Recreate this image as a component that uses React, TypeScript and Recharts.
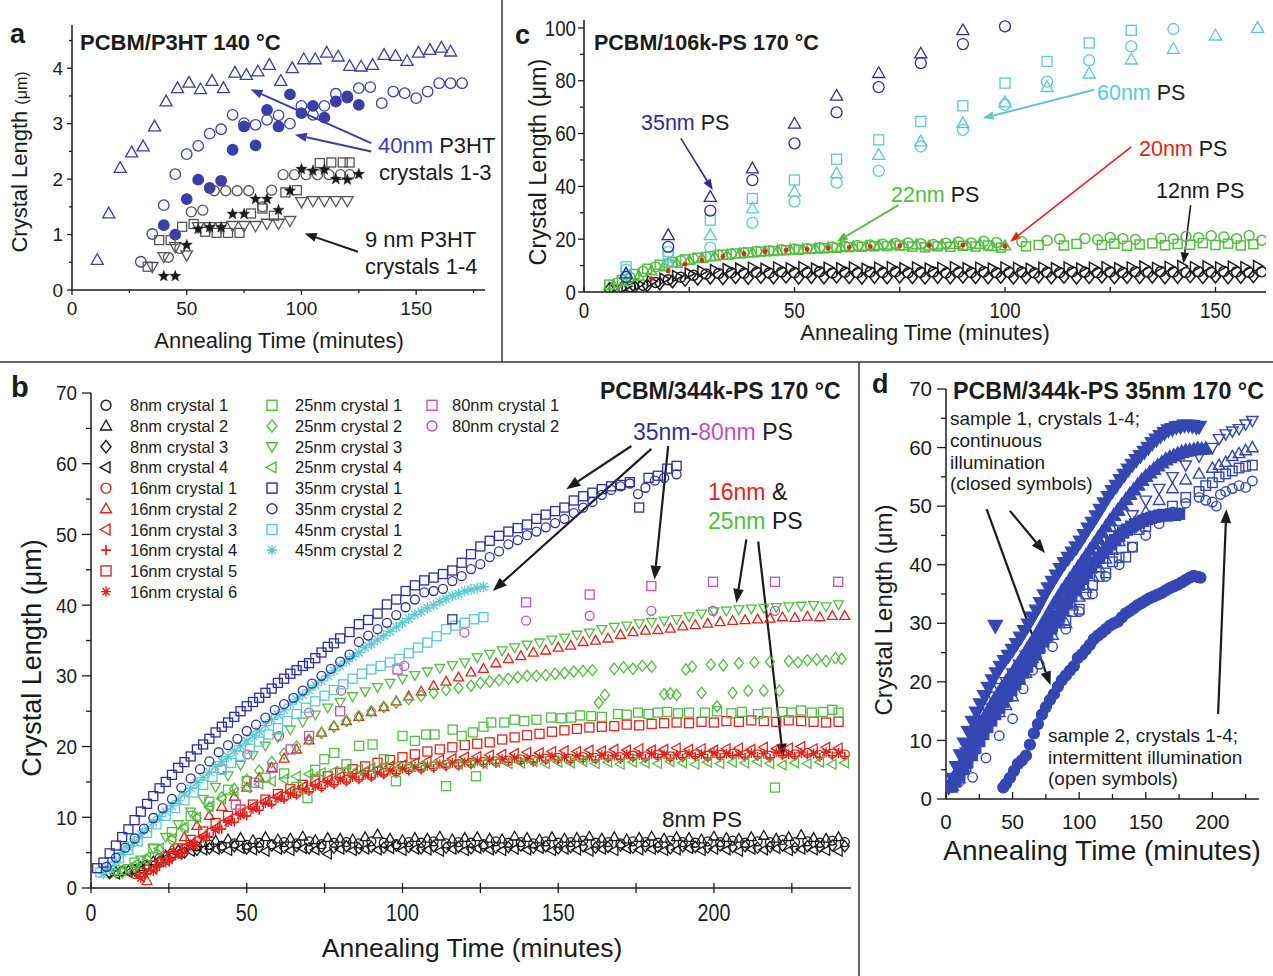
import React from "react";
import { ScatterChart, Scatter, XAxis, YAxis, ReferenceLine } from "recharts";

type P = [number, number];
type V = (number | null)[];
type Kind = "circle" | "square" | "up" | "down" | "left" | "right" | "diamond" | "star" | "plus" | "aster";
type S = { name: string; kind: Kind; color: string; pts: P[]; filled?: boolean; size?: number; sw?: number };
type Arrow = { from: P; to: P; color: string; w?: number; head?: number };

const FONT = "'Liberation Sans', Arial, Helvetica, sans-serif";
const INK = "#1b1b1b";
const A_BLUE = "#3b3da9";
const GREY = "#555555";
const C_BLUE = "#2f2c98";
const B_BLUE = "#2b2f9f";
const D_BLUE = "#3447b3";
const CYAN = "#5bc9d3";
const GREEN = "#52bd3f";
const RED = "#e2231a";
const MAG = "#c44fb8";

// ---------- panel a : PCBM/P3HT 140 C ----------
const a40c1: P[] = [[11,0.54],[16,1.38],[21,2.2],[26,2.48],[31,2.59],[36,2.95],[41,3.4],[46,3.64],[51,3.74],[56,3.62],[61,3.77],[66,3.64],[71,3.92],[76,3.88],[81,3.94],[86,4.06],[91,3.77],[96,4.0],[101,4.16],[106,4.16],[111,4.28],[116,4.21],[121,4.04],[126,4.03],[131,4.06],[136,4.24],[141,4.22],[146,4.13],[151,4.28],[156,4.33],[161,4.37],[165,4.3]];
const a40c2: P[] = [[30,0.51],[35,1.01],[40,1.53],[45,2.09],[50,2.45],[55,2.6],[60,2.82],[65,2.9],[70,3.16],[75,3.01],[80,2.98],[85,3.07],[90,3.15],[95,3.0],[100,3.32],[105,3.16],[110,3.32],[115,3.54],[120,3.47],[125,3.64],[130,3.66],[135,3.37],[140,3.58],[145,3.55],[150,3.46],[155,3.58],[160,3.73],[165,3.73],[170,3.73]];
const a40c3: P[] = [[40,1.17],[45,1.0],[50,1.64],[55,1.99],[60,1.84],[65,1.97],[70,2.53],[75,2.95],[80,2.61],[85,3.25],[90,2.95],[95,3.53],[100,3.19],[105,3.32],[110,3.11],[115,3.4],[120,3.49],[125,3.34]];
const a9c1: P[] = [[42,0.59],[47,0.75],[52,1.41],[57,1.44],[62,1.79],[67,1.79],[72,1.79],[77,1.79],[83,1.5],[87,1.8],[92,2.08],[97,2.08],[102,2.08],[107,2.08],[112,2.08],[117,2.08],[121,2.08]];
const a9c2: P[] = [[33,0.42],[38,0.9],[43,0.9],[48,1.14],[53,1.19],[58,1.05],[63,1.03],[68,1.03],[73,1.03],[78,1.38],[83,1.47],[88,1.34],[93,1.76],[98,1.8],[108,2.29],[113,2.3],[118,2.3],[121,2.3]];
const a9c3: P[] = [[35,0.42],[40,0.6],[45,0.78],[50,0.63],[55,1.14],[60,1.14],[65,1.14],[70,1.16],[75,1.16],[80,1.16],[85,1.2],[90,1.2],[95,1.25],[100,1.59],[105,1.61],[110,1.61],[115,1.61],[120,1.61]];
const a9c4: P[] = [[40,0.25],[45,0.25],[50,0.81],[55,1.1],[60,1.13],[65,1.13],[70,1.37],[75,1.37],[80,1.64],[85,1.64],[90,1.44],[95,1.79],[100,2.18],[105,2.15],[110,2.17],[115,2.0],[120,1.99],[125,2.09]];
const aXTicks = [0, 25, 50, 75, 100, 125, 150, 175];
const aYTicks = [0, 0.5, 1, 1.5, 2, 2.5, 3, 3.5, 4, 4.5];

// ---------- panel c : PCBM/106k-PS 170 C ----------
const tC = [6,9,12,15,18,21,24,27,30,33,
  36,39,42,45,48,51,54,57,60,63,
  66,69,72,75,78,81,84,87,90,93,
  96,99,102,105,108,111,114,117,120,123,
  126,129,132,135,138,141,144,147,150,153,
  156,159];
const tC2 = [8,11,14,17,20,23,26,29,32,35,
  38,41,44,47,50,53,56,59,62,65,
  68,71,74,77,80,83,86,89,92,95,
  98,101,104,107,110,113,116,119,122,125,
  128,131,134,137,140,143,146,149,152,155,
  158,161];
const tC3 = [7,10,13,16,19,22,25,28,31,34,
  37,40,43,46,49,52,55,58,61,64,
  67,70,73,76,79,82,85,88,91,94,
  97,100,103,106,109,112,115,118,121,124,
  127,130,133,136,139,142,145,148,151,154,
  157,160];
const c12d: V = [1.0,1.5,2.0,2.5,3.2,4.0,4.6,5.0,5.4,5.2,
  5.6,5.3,5.7,5.5,5.8,5.4,5.7,5.5,5.8,5.6,
  5.4,5.7,5.5,5.8,5.6,5.4,5.7,5.5,5.8,5.6,
  5.5,5.7,5.4,5.6,5.8,5.5,5.7,5.4,5.6,5.8,
  5.5,5.7,5.6,5.8,5.5,5.7,5.9,5.6,5.8,5.5,
  5.7,5.9];
const c12c: V = [null,2.0,2.6,3.6,4.6,5.6,6.3,6.8,7.0,7.3,
  7.1,7.5,7.2,7.6,7.3,7.4,7.7,7.2,7.5,7.3,
  7.6,7.4,7.7,7.3,7.5,7.6,7.2,7.5,7.4,7.7,
  7.3,7.5,7.6,7.2,7.5,7.4,7.7,7.5,7.3,7.6,
  7.4,7.7,7.5,7.8,7.6,7.4,7.7,7.5,7.8,7.6,
  7.4,7.7];
const c12t: V = [1.5,2.2,3.0,4.0,5.0,6.0,7.0,7.8,8.3,8.7,
  8.9,9.2,8.8,9.3,9.0,9.4,8.9,9.2,9.0,9.3,
  8.8,9.2,9.4,9.0,9.3,8.9,9.1,9.4,9.0,9.2,
  8.9,9.3,9.1,8.8,9.2,9.0,9.3,8.9,9.2,9.4,
  9.0,9.3,9.6,9.1,9.5,9.8,9.4,9.7,9.3,9.6,
  9.4,9.8];
const c22c: V = [3.5,5.5,7.8,9.5,10.8,11.8,12.6,13.3,13.9,14.4,
  14.9,15.3,15.6,16.0,16.3,16.5,16.8,17.0,17.3,17.6,
  17.8,18.1,18.4,18.6,18.3,18.0,18.5,18.9,18.6,19.2,
  18.7,null,19.0,null,19.5,20.1,null,20.3,19.8,20.6,
  20.2,19.9,null,20.4,20.1,21.0,20.5,21.3,20.8,20.2,
  21.4,19.6];
const c22s: V = [2.8,4.5,6.8,8.8,10.3,11.4,12.3,13.0,13.6,14.1,
  14.6,15.0,15.3,15.5,15.8,16.0,16.3,16.5,16.7,17.0,
  17.1,17.3,17.4,17.6,17.2,16.9,17.3,17.1,17.5,17.2,
  17.6,16.8,null,17.3,17.8,null,17.6,18.2,null,17.8,
  18.3,17.5,18.0,18.4,17.7,18.2,17.9,18.5,17.8,18.3,
  17.6,18.1];
const c22t: V = [2.5,4.0,6.0,8.0,9.6,10.9,11.9,12.7,13.4,14.0,
  14.5,14.9,15.3,15.6,15.9,16.2,16.4,16.7,16.9,17.1,
  17.3,17.6,17.8,17.5,17.9,17.4,17.8,18.0,17.6,18.1,
  17.2,17.5];
const c20: P[] = [[16,5],[20,8],[24,10.5],[28,12],[33,13.5],[38,14.5],[43,15.2],[48,15.8],[53,16.2],[58,16.6],[63,16.9],[68,17.2],[75,17.5],[82,17.6],[90,17.8],[100,17.3]];
const c35t: P[] = [[10,7],[20,21.5],[30,36],[40,46.8],[50,63.7],[60,74.3],[70,82.9],[80,90.3],[90,99.1]];
const c35c: P[] = [[10,5.7],[20,17.1],[30,30.8],[40,42.4],[50,56.3],[60,68],[70,77.6],[80,86.7],[90,93.9],[100,100.6]];
const c60s: P[] = [[10,9.5],[20,13.3],[30,27.2],[40,35.4],[50,42.4],[60,50.3],[70,57.6],[80,64.6],[90,70.5],[100,79.1],[110,87.3],[120,94.3],[130,99.1]];
const c60t: P[] = [[10,6.5],[20,11],[30,21.5],[40,31.6],[50,38],[60,44.9],[70,51.9],[80,57],[90,63.9],[100,71.8],[110,77.6],[120,82.7],[130,88],[140,92],[150,97.1],[160,100]];
const c60c: P[] = [[10,8.5],[20,15.2],[30,16.8],[40,26.2],[50,34.2],[60,41.4],[70,45.9],[80,55.1],[90,61.4],[100,70.9],[110,79.7],[120,87.7],[130,93],[140,99.6]];
const cXTicks = [0, 25, 50, 75, 100, 125, 150];
const cYTicks = [0, 10, 20, 30, 40, 50, 60, 70, 80, 90, 100];

// ---------- panel b : PCBM/344k-PS 170 C ----------
const tB = [2,6,10,14,18,22,26,30,34,38,
  42,46,50,54,58,62,66,70,74,78,
  82,86,90,94,98,102,106,110,114,118,
  122,126,130,134,138,142,146,150,154,158,
  162,166,170,174,178,182,186,190,194,198,
  202,206,210,214,218,222,226,230,234,238,
  242];
const tB2 = [4,8,12,16,20,24,28,32,36,40,
  44,48,52,56,60,64,68,72,76,80,
  84,88,92,96,100,104,108,112,116,120,
  124,128,132,136,140,144,148,152,156,160,
  164,168,172,176,180,184,188,192,196,200,
  204,208,212,216,220,224,228,232,236,240];
const b8c1: V = [null,2.2,2.4,2.7,3.3,4.2,4.9,5.5,5.9,6.1,
  6.0,6.3,6.1,6.4,6.2,6.5,6.3,6.6,6.2,6.4,
  6.5,6.3,6.6,6.4,6.2,6.5,6.4,6.6,6.3,6.5,
  6.4,6.2,6.6,6.4,6.5,6.3,6.6,6.4,6.5,6.7,
  6.4,6.5,6.3,6.6,6.5,6.4,6.7,6.5,6.4,6.6,
  6.5,6.7,6.4,6.6,6.5,6.8,6.5,6.6,6.4,6.7,
  6.5];
const b8c2: V = [null,2.3,2.5,3.0,3.8,4.6,5.4,6.0,6.4,6.7,
  6.9,7.1,6.8,7.2,6.9,7.0,7.3,6.8,7.1,7.0,
  6.9,7.2,7.6,7.0,6.8,7.1,7.0,7.3,6.9,7.1,
  7.2,7.0,6.9,7.3,7.1,6.9,7.2,7.0,7.1,7.3,
  7.0,7.2,6.9,7.1,7.3,7.0,7.2,7.1,6.9,7.3,
  7.1,7.0,7.2,7.4,7.0,7.2,7.5,7.1,7.0,7.2];
const b8c3: V = [null,2.1,2.3,2.5,3.0,3.8,4.5,5.0,5.4,5.6,
  5.7,5.9,5.6,5.8,6.0,5.7,5.9,5.6,5.8,5.7,
  5.9,5.6,5.8,5.7,6.0,5.8,5.6,5.9,5.7,5.8,
  5.6,5.9,5.7,5.8,6.0,5.7,5.9,5.6,5.8,5.9,
  5.7,5.8,6.0,5.7,5.9,5.8,5.6,5.9,5.8,5.7,
  6.0,5.8,5.9,5.7,5.8,6.0,5.7,5.9,5.8,6.0,
  5.9];
const b8c4: V = [null,2.0,2.2,2.6,3.4,4.2,4.8,5.2,5.4,5.5,
  5.3,5.6,5.4,5.2,5.5,5.3,5.6,5.4,4.8,5.5,
  5.3,5.5,5.4,5.6,5.3,5.5,5.4,5.2,5.5,5.3,
  5.6,5.4,5.3,5.5,5.4,5.6,5.3,5.5,5.4,5.2,
  5.5,5.3,5.6,5.4,5.5,5.3,5.4,5.6,5.3,5.5,
  5.4,5.2,5.5,5.4,5.6,5.3,5.5,5.4,5.3,5.2];
const b16c1: V = [null,null,null,2.0,2.6,3.6,4.6,5.6,6.6,7.8,
  8.9,9.8,10.7,11.5,12.2,12.9,13.4,13.9,14.4,14.9,
  15.3,15.6,15.9,16.3,16.5,16.8,17.0,17.2,17.4,17.5,
  17.7,17.8,17.9,18.0,18.2,18.1,18.3,18.4,18.3,18.5,
  18.4,18.6,18.5,18.7,18.6,18.8,18.6,18.7,18.9,18.7,
  18.8,19.0,18.8,18.9,18.7,19.0,18.9,19.1,18.8,19.0,
  18.9];
const b16c2: V = [null,null,null,null,1.0,3.6,5.4,7.2,8.8,10.2,
  11.5,12.9,14.2,15.6,17.0,18.3,19.6,20.9,22.0,22.9,
  23.6,24.2,24.9,25.6,26.4,27.1,27.8,28.6,29.2,29.8,
  30.5,31.0,31.8,32.4,32.8,33.3,33.6,34.0,34.3,34.8,
  35.0,35.3,35.8,36.2,36.4,36.5,36.7,37.0,37.2,37.4,
  37.6,37.8,37.9,38.0,38.1,38.3,38.2,38.4,38.3,38.5,
  38.5];
const b16c3: V = [null,null,null,1.6,2.8,3.9,5.0,6.2,7.3,8.5,
  9.6,10.6,11.5,12.3,13.0,13.7,14.3,14.8,15.3,15.8,
  16.1,16.5,16.8,17.2,17.4,17.7,17.9,18.1,18.3,18.5,
  18.6,18.8,18.9,19.0,19.2,19.1,19.3,19.4,19.3,19.5,
  19.4,19.6,19.5,19.7,19.5,19.6,19.8,19.6,19.7,19.5,
  19.7,19.8,19.6,19.9,19.7,19.8,20.0,19.7,19.9,19.8];
const b16c4: V = [null,null,null,null,2.0,3.0,4.0,5.0,6.1,7.2,
  8.3,9.3,10.2,11.0,11.8,12.5,13.1,13.6,14.1,14.6,
  15.0,15.3,15.6,16.0,16.2,16.5,16.7,16.9,17.1,17.2,
  17.4,17.5,17.6,17.8,17.9,17.8,18.0,18.1,18.0,18.2,
  18.1,18.3,18.2,18.4,18.3,18.5,18.3,18.4,18.6,18.4,
  18.5,18.7,18.5,18.6,18.4,18.7,18.6,18.8,18.5,18.7,
  18.6];
const b16c5: V = [null,null,null,2.2,3.2,4.4,5.6,6.8,8.0,9.2,
  10.2,11.1,11.8,12.5,13.3,14.0,14.6,15.2,15.8,16.3,
  16.8,17.2,17.7,18.1,18.5,18.9,19.3,19.6,19.9,20.2,
  20.4,20.6,21.0,21.3,21.6,21.8,22.1,22.3,22.5,22.7,
  22.8,22.9,23.1,23.0,23.2,23.3,23.4,23.3,23.5,23.4,
  23.6,23.5,23.7,23.6,23.5,23.7,23.6,23.5,23.4,23.5];
const b16c6: V = [null,null,null,1.4,2.4,3.6,4.8,6.0,7.1,8.2,
  9.3,10.3,11.2,12.0,12.7,13.3,13.9,14.4,14.9,15.3,
  15.7,16.0,16.3,16.6,16.9,17.1,17.3,17.5,17.7,17.8,
  18.0,18.1,18.2,18.4,18.3,18.5,18.6,18.5,18.7,18.6,
  18.8,18.7,18.9,18.8,19.0,18.9,18.8,19.0,18.9,19.1,
  19.0,18.9,19.1,19.0,19.2,18.9,19.1,19.0,19.2,19.1];
const b25c1: P[] = [[8,2.5],[14,3.6],[20,5.6],[26,7.9],[32,10.2],[38,12.2],[44,13.9],[50,15.1],[56,15.6],[62,16.2],[66,14.3],[69.5,12.7],[72,16.7],[74.9,18.2],[78.1,19.1],[82,17.5],[86.1,20.1],[90.4,20.3],[94,18.2],[97.9,15.1],[100,21.5],[104,20.8],[107.6,21.7],[110.3,21.7],[114,14.4],[116.1,22.4],[119,21.5],[122.6,22],[123.6,15.8],[126,22.8],[128.5,23.4],[132.7,23.4],[136,23.8],[139.1,23.6],[143,23.8],[147.7,24.1],[151,24.0],[154.2,24.1],[157,24.4],[160.6,24.3],[164,24.2],[169.2,24.6],[172,24.5],[175.6,24.8],[179,24.6],[182,24.8],[185,24.9],[188.5,24.7],[192,24.8],[197.1,24.8],[201,25.0],[205.6,24.7],[209,24.9],[214.2,24.6],[217,24.8],[219.6,14.2],[222,24.9],[224.9,24.8],[228,25.1],[231.4,24.8],[235,24.9],[238,25.2],[240,24.8]];
const b25c2: P[] = [[10,2.2],[14,3.0],[18,4.0],[22,5.4],[26,6.8],[30,8.4],[34,9.9],[38,11.4],[42,12.8],[46,14.0],[50,15.3],[54,16.6],[58,17.8],[62,19.0],[66,20.0],[70,21.0],[74,21.9],[78,22.8],[82,23.6],[86,24.3],[90,25.0],[94,25.6],[98,26.2],[102,26.7],[106,27.2],[110,27.6],[114,28.0],[118,28.3],[122,28.6],[125,29.0],[128,29.2],[131,29.4],[134,29.6],[137,29.8],[140,30.0],[143,30.0],[146,30.1],[149,30.3],[152,30.4],[155,30.6],[158,30.7],[161,30.8],[163,26.2],[165,27.3],[168,31.0],[171,31.2],[174,31.0],[177,31.4],[180,31.3],[184,27.4],[186,27.5],[188,27.3],[191,30.9],[193,31.3],[196,27.6],[199,31.6],[201,25.7],[203,31.5],[206,27.6],[208,31.8],[211,27.9],[213,31.9],[216,27.9],[218,32.0],[221,27.9],[224,32.1],[227,31.9],[230,32.2],[233,32.3],[236,32.1],[239,32.5],[241,32.4]];
const b25c3: V = [null,2.2,2.8,4.0,5.6,7.2,9.0,10.8,12.6,14.3,
  15.9,17.4,18.8,20.1,21.3,22.4,23.5,24.5,25.5,26.3,
  27.1,27.8,28.4,29.0,29.6,30.1,30.6,31.1,31.5,31.9,
  32.6,33.1,33.6,34.0,34.4,34.7,35.1,35.4,35.8,36.1,
  36.6,36.9,37.1,37.4,37.6,37.8,38.0,38.4,38.8,39.1,
  39.2,39.4,39.5,39.6,39.7,39.8,39.9,40.0,39.8,40.1];
const b25c4: V = [null,null,2.4,3.3,4.4,5.6,7.0,8.6,10.0,11.5,
  12.6,13.5,14.2,14.7,15.1,15.4,15.8,16.1,16.3,16.5,
  16.7,16.8,17.0,17.1,17.2,17.3,17.4,17.5,17.6,17.5,
  17.7,17.6,17.8,17.6,17.7,17.9,17.6,17.8,17.7,17.9,
  17.6,17.8,17.5,17.8,17.7,17.6,17.9,17.7,17.5,17.8,
  17.6,17.8,17.7,17.9,17.6,17.4,17.7,17.6,17.8,17.5,
  17.7];
const b35c1: P[] = [[2,2.8],[4,3.6],[6,4.9],[8,6.0],[10,7.2],[12,8.3],[14,9.6],[16,10.8],[18,11.9],[20,13.0],[22,14.1],[24,15.0],[26,16.0],[28,17.0],[30,17.8],[32,18.6],[34,19.6],[36,20.3],[38,21.1],[40,22.0],[42,22.8],[44,23.4],[46,24.2],[48,25.0],[50,25.7],[52,26.3],[54,26.9],[56,27.6],[58,28.2],[60,29.0],[62,29.6],[64,30.3],[66,30.8],[68,31.4],[70,31.8],[72,32.5],[74,33.3],[76,34.1],[78,34.6],[80,35.3],[83,36.2],[86,37.3],[89,37.9],[92,38.8],[95,40.1],[98,40.8],[101,42.0],[104,42.8],[107,43.5],[110,43.9],[113,44.4],[116,38.0],[116,44.9],[119,46.0],[122,47.2],[125,48.3],[128,49.1],[131,49.8],[134,50.4],[137,50.9],[140,51.4],[143,52.2],[146,52.8],[149,53.3],[152,53.8],[155,54.8],[158,55.4],[161,55.9],[164,56.4],[167,56.8],[170,57.0],[173,57.4],[176,53.8],[179,58.0],[182,58.3],[185,59.3],[188,59.7]];
const b35c2: P[] = [[5,3.0],[8,4.3],[11,5.7],[14,7.0],[17,8.4],[20,9.9],[23,11.3],[26,12.6],[29,14.2],[32,15.5],[35,16.8],[38,17.9],[41,19.2],[44,20.2],[47,21.1],[50,22.2],[53,23.1],[56,24.1],[59,25.2],[62,26.0],[65,26.9],[68,27.9],[71,28.9],[74,30.0],[77,31.0],[80,32.0],[83,33.0],[86,34.8],[89,35.7],[92,36.6],[95,37.5],[98,38.6],[101,39.7],[104,40.8],[107,41.8],[110,42.0],[113,42.3],[116,43.4],[119,44.1],[122,45.1],[125,45.8],[128,46.8],[131,47.6],[134,48.6],[137,49.2],[140,49.9],[143,50.4],[146,51.0],[149,51.6],[152,52.2],[155,53.0],[158,53.8],[161,54.6],[164,55.6],[167,56.3],[170,56.8],[173,57.2],[175.6,55.7],[178,56.6],[181,57.6],[184,58.0],[188,58.5]];
const b45c1: P[] = [[3,2.2],[6,3.0],[9,4.2],[12,5.4],[15,6.6],[18,7.8],[21,9.0],[24,10.2],[27,11.3],[30,12.4],[33,13.5],[36,14.6],[39,15.7],[42,16.7],[45,17.7],[48,18.7],[51,19.7],[54,20.7],[57,21.7],[60,22.6],[63,23.6],[66,24.6],[69,25.5],[72,26.4],[75,27.2],[78,28.0],[81,28.8],[84,29.6],[87,30.3],[90,30.9],[93,31.4],[96,31.9],[99,32.4],[102,33.2],[105,34.0],[108,34.7],[111,35.6],[114,36.6],[117,37.1],[120,37.5],[123,38.0],[126,38.3]];
const b45c2: P[] = [[4,2.0],[6,2.7],[8,3.8],[10,5.0],[12,5.8],[14,6.5],[16,7.6],[18,8.4],[20,9.3],[22,10.1],[24,10.8],[26,11.6],[28,12.4],[30,13.3],[32,14.1],[34,14.9],[36,15.6],[38,16.4],[40,17.2],[42,17.9],[44,18.6],[46,19.4],[48,20.1],[50,20.8],[52,21.5],[54,22.2],[56,23.0],[58,23.8],[60,24.5],[62,25.2],[64,26.0],[66,26.7],[68,27.3],[70,28.0],[72,28.7],[74,29.3],[76,30.0],[78,30.7],[80,31.4],[82,32.1],[84,32.7],[86,33.3],[88,34.0],[90,34.5],[92,35.1],[94,35.7],[96,36.3],[98,36.9],[100,37.5],[102,38.1],[104,38.7],[106,39.1],[108,39.6],[110,40.0],[112,40.5],[114,40.9],[116,41.3],[118,41.6],[120,42.0],[122,42.2],[124,42.4],[126,42.6]];
const b80c1: P[] = [[46.5,11.8],[52.4,14.9],[58.3,17.0],[64.1,19.6],[70,21.5],[80,25],[98.4,30.9],[139.7,40.4],[160.1,41.5],[179.9,42.7],[199.7,43.3],[219.6,43.3],[239.9,43.3]];
const b80c2: P[] = [[42,16.8],[50.2,18.9],[60.4,21.5],[70,24.8],[80.3,27.9],[100.6,31.4],[119.9,36.1],[139.7,37.8],[160.1,38.5],[179.9,39.2],[199.7,39.2],[219.6,39.2]];
const bXTicks = [0, 25, 50, 75, 100, 125, 150, 175, 200, 225];
const bYTicks = [0, 5, 10, 15, 20, 25, 30, 35, 40, 45, 50, 55, 60, 65, 70];

// ---------- panel d : PCBM/344k-PS 35nm 170 C ----------
const dDown: P[] = [[2,2],[5,3.5],[8,5.5],[11,7.5],[14,9.5],[17,11.5],[20,13.2],[23,14.8],[26,16.2],[29,17.6],[32,19.0],[35,20.3],[37,29.6],[38,21.5],[41,22.6],[44,23.6],[47,24.5],[50,25.5],[53,26.5],[56,27.6],[59,28.7],[62,29.8],[65,31],[68,32.2],[71,33.5],[74,34.8],[77,36],[80,37.1],[83,38.2],[86,39.3],[89,40.3],[92,41.2],[95,42.1],[98,43],[101,44],[104,45.1],[107,46.2],[110,47.2],[113,48.3],[116,49.4],[119,50.5],[122,51.6],[125,52.6],[128,53.5],[131,54.5],[134,55.4],[137,56.3],[140,57.1],[143,57.9],[146,58.6],[149,59.3],[152,60.0],[155,60.8],[158,61.4],[161,62.0],[164,62.5],[167,63.0],[170,63.2],[173,63.5],[176,63.6],[179,63.8],[182,63.8],[185,63.7],[188,63.5],[190,63.6]];
const dUp: P[] = [[3,2.5],[6,3.6],[9,5.0],[12,6.4],[15,7.8],[18,9.2],[21,10.6],[24,11.9],[27,13.2],[30,14.4],[33,15.6],[36,16.8],[39,17.9],[42,19.0],[45,20.0],[48,21.0],[51,22.0],[54,23.0],[57,24.1],[60,25.2],[63,26.3],[66,27.4],[69,28.5],[72,29.7],[75,30.9],[78,32.1],[81,33.3],[84,34.4],[87,35.5],[90,36.5],[93,37.5],[96,38.5],[99,39.5],[102,40.5],[105,41.5],[108,42.5],[111,43.5],[114,44.5],[117,45.5],[120,46.5],[123,47.5],[126,48.4],[129,49.3],[132,50.2],[135,51.1],[138,52.0],[141,52.8],[144,53.6],[147,54.4],[150,55.1],[153,55.7],[156,56.3],[159,56.9],[162,57.4],[165,57.9],[168,58.3],[171,58.6],[174,58.9],[177,59.2],[180,59.4],[183,59.5],[186,59.6],[189,59.8],[192,59.7],[195,59.8]];
const dSq: P[] = [[4,2.2],[7,3.0],[10,4.0],[13,5.1],[16,6.3],[19,7.5],[22,8.7],[25,9.9],[28,11.1],[31,12.3],[34,13.4],[37,14.5],[40,15.6],[43,16.6],[46,17.6],[49,18.6],[52,19.6],[55,20.6],[58,21.6],[61,22.6],[64,23.6],[67,24.7],[70,25.8],[73,26.9],[76,28.0],[79,29.1],[82,30.2],[85,31.3],[88,32.4],[91,33.5],[94,34.6],[97,35.6],[100,36.6],[103,37.6],[106,38.6],[109,39.5],[112,40.4],[115,41.2],[118,42.0],[121,42.8],[124,43.5],[127,44.2],[130,44.9],[133,45.5],[136,46.0],[139,46.5],[142,46.9],[145,47.2],[148,47.5],[151,47.8],[154,48.0],[157,48.2],[160,48.3],[163,48.5],[166,48.4],[169,48.6],[172,48.5],[175,48.7]];
const dCirc: P[] = [[43,2],[45,2.6],[48,3.6],[51,4.8],[54,6],[57,6.6],[60,7.4],[63,9.3],[66,11.2],[69,12.8],[72,14.4],[75,15.7],[78,16.9],[81,17.9],[84,19.2],[87,20.3],[90,21.1],[93,21.9],[96,22.7],[99,24.1],[102,24.7],[105,25.5],[108,26.3],[111,27.3],[114,27.9],[117,28.4],[120,29],[123,29.6],[126,30],[129,30.3],[132,31],[135,31.7],[138,32.1],[141,32.6],[144,33.1],[147,33.5],[150,33.9],[153,34.3],[156,34.6],[159,34.9],[162,35.2],[165,35.6],[168,36],[171,36.3],[174,36.6],[177,37],[180,37.4],[183,37.8],[186,38.1],[189,37.9],[191,37.8]];
const oDown: P[] = [[5,2.5],[10,5],[15,8],[20,11],[25,13.5],[30,15.5],[35,17.5],[40,19],[45,20],[50,21.5],[55,23],[60,24.5],[65,26],[70,27.5],[75,29],[80,31],[85,32.5],[90,34],[95,35.5],[100,37],[110,40],[120,43],[130,46],[140,48.5],[150,51],[160,53],[170,55],[180,57],[190,58.5],[200,60],[205,61.5],[210,62.3],[215,62.8],[220,63.2],[225,64],[230,64.6]];
const oUp: P[] = [[5,2.2],[10,3.5],[15,6],[20,9],[25,11.5],[30,13.5],[35,14.5],[40,14.8],[45,16],[50,17.5],[55,20.5],[60,21.5],[65,24],[70,26],[75,27.5],[80,28],[85,30],[90,30],[95,33],[100,34.5],[105,36],[110,38],[115,39.5],[120,41],[125,42.5],[130,44],[140,46.5],[150,49],[160,51],[170,53],[180,54.5],[190,55.5],[200,56.5],[205,57],[210,57.5],[215,58.5],[220,59],[225,59.5],[230,60]];
const oSq: P[] = [[5,2],[10,4],[15,5.5],[20,7.4],[25,10],[30,12.5],[35,15],[40,17],[45,19],[50,21],[55,22.5],[60,24],[65,25],[70,27],[75,28],[80,29.5],[85,30.5],[90,30.5],[95,32],[100,32.4],[105,35],[110,36.5],[115,38],[120,38.6],[125,40.5],[130,41.2],[135,41.3],[140,43],[145,46],[150,46.5],[160,48.5],[170,50],[180,51.5],[190,52.5],[195,53.5],[200,54],[205,55],[210,55.5],[215,56],[220,56.5],[225,56.8],[230,57]];
const oCirc: P[] = [[5,2],[10,3],[20,3.7],[30,7],[40,10.8],[50,13.7],[58,18.8],[65,22],[70,23],[80,26],[90,29],[100,32],[110,35],[120,38],[130,40],[140,43],[150,45],[160,47],[170,49],[180,50.5],[190,51.5],[195,51],[200,50.7],[203,50],[206,52],[210,52.5],[215,53],[220,53.5],[225,53.2],[230,54.3]];
const dXTicks = [0, 25, 50, 75, 100, 125, 150, 175, 200, 225];
const dYTicks = [0, 5, 10, 15, 20, 25, 30, 35, 40, 45, 50, 55, 60, 65, 70];

// ---------- helpers ----------
const zip = (ts: number[], vs: V): P[] => {
  const out: P[] = [];
  for (let i = 0; i < Math.min(ts.length, vs.length); i++) {
    const v = vs[i];
    if (v != null) out.push([ts[i], v]);
  }
  return out;
};
const pts = (a: P[]) => a.map(([x, y]) => ({ x, y }));

function starPts(cx: number, cy: number, r: number) {
  const p: string[] = [];
  for (let i = 0; i < 10; i++) {
    const rr = i % 2 ? r * 0.42 : r;
    const a = -Math.PI / 2 + (i * Math.PI) / 5;
    p.push(`${cx + rr * Math.cos(a)},${cy + rr * Math.sin(a)}`);
  }
  return p.join(" ");
}

function glyph(kind: Kind, cx: number, cy: number, size: number, color: string, filled: boolean, sw: number) {
  const r = size / 2;
  const st = { stroke: color, strokeWidth: sw, fill: filled ? color : "none" };
  switch (kind) {
    case "circle":
      return <circle cx={cx} cy={cy} r={r} {...st} />;
    case "square":
      return <rect x={cx - r} y={cy - r} width={size} height={size} {...st} />;
    case "up":
      return <polygon points={`${cx},${cy - r * 1.15} ${cx - r * 1.1},${cy + r * 0.8} ${cx + r * 1.1},${cy + r * 0.8}`} {...st} />;
    case "down":
      return <polygon points={`${cx},${cy + r * 1.15} ${cx - r * 1.1},${cy - r * 0.8} ${cx + r * 1.1},${cy - r * 0.8}`} {...st} />;
    case "left":
      return <polygon points={`${cx - r * 1.15},${cy} ${cx + r * 0.8},${cy - r * 1.1} ${cx + r * 0.8},${cy + r * 1.1}`} {...st} />;
    case "right":
      return <polygon points={`${cx + r * 1.15},${cy} ${cx - r * 0.8},${cy - r * 1.1} ${cx - r * 0.8},${cy + r * 1.1}`} {...st} />;
    case "diamond":
      return <polygon points={`${cx},${cy - r * 1.25} ${cx + r},${cy} ${cx},${cy + r * 1.25} ${cx - r},${cy}`} {...st} />;
    case "star":
      return <polygon points={starPts(cx, cy, r * 1.25)} fill={color} stroke={color} strokeWidth={0.4} />;
    case "plus":
      return <path d={`M${cx - r},${cy}H${cx + r}M${cx},${cy - r}V${cy + r}`} stroke={color} strokeWidth={sw + 0.3} fill="none" />;
    case "aster": {
      const k = r * 0.72;
      return (
        <path
          d={`M${cx - r},${cy}H${cx + r}M${cx},${cy - r}V${cy + r}M${cx - k},${cy - k}L${cx + k},${cy + k}M${cx - k},${cy + k}L${cx + k},${cy - k}`}
          stroke={color}
          strokeWidth={sw}
          fill="none"
        />
      );
    }
  }
  return <g />;
}

const shapeOf = (s: S) => (p: any) =>
  p.cx == null || p.cy == null ? <g /> : glyph(s.kind, p.cx, p.cy, s.size ?? 9, s.color, !!s.filled, s.sw ?? 1.3);

const arrowShape = (color: string, w: number, head: number) => (p: any) => {
  const { x1, y1, x2, y2 } = p;
  if ([x1, y1, x2, y2].some((v) => v == null || isNaN(v))) return <g />;
  const a = Math.atan2(y2 - y1, x2 - x1);
  const hx = x2 - head * Math.cos(a);
  const hy = y2 - head * Math.sin(a);
  const nx = -Math.sin(a) * head * 0.38;
  const ny = Math.cos(a) * head * 0.38;
  return (
    <g>
      <line x1={x1} y1={y1} x2={hx} y2={hy} stroke={color} strokeWidth={w} />
      <polygon points={`${x2},${y2} ${hx + nx},${hy + ny} ${hx - nx},${hy - ny}`} fill={color} />
    </g>
  );
};

type TickCfg = { majors: number[]; len: number; minorLen: number; dir: number; gap: number; size: number; sx?: number };

const xTick = (c: TickCfg) => (p: any) => {
  const { x, y, payload } = p;
  const v = payload.value;
  const major = c.majors.includes(v);
  const L = major ? c.len : c.minorLen;
  const y1 = c.dir === 0 ? y - L : y;
  const y2 = c.dir === 0 ? y + L : y + c.dir * L;
  return (
    <g>
      <line x1={x} x2={x} y1={y1} y2={y2} stroke={INK} strokeWidth={1.3} />
      {major && (
        <text transform={`translate(${x},${y + c.gap}) scale(${c.sx ?? 1},1)`} textAnchor="middle" fontSize={c.size} fill={INK} fontFamily={FONT}>
          {v}
        </text>
      )}
    </g>
  );
};

const yTick = (c: TickCfg) => (p: any) => {
  const { x, y, payload } = p;
  const v = payload.value;
  const major = c.majors.includes(v);
  const L = major ? c.len : c.minorLen;
  return (
    <g>
      <line x1={x} x2={x - L} y1={y} y2={y} stroke={INK} strokeWidth={1.3} />
      {major && (
        <text transform={`translate(${x - c.gap},${y}) scale(${c.sx ?? 1},1)`} dy="0.35em" textAnchor="end" fontSize={c.size} fill={INK} fontFamily={FONT}>
          {v}
        </text>
      )}
    </g>
  );
};

type PanelCfg = {
  left: number; top: number; width: number; height: number;
  margin: { top: number; right: number; bottom: number; left: number };
  xDomain: [number, number]; yDomain: [number, number];
  xTicks: number[]; yTicks: number[];
  xt: TickCfg; yt: TickCfg; xHeight: number; yWidth: number;
  series: S[]; arrows: Arrow[];
};

function Panel({ cfg }: { cfg: PanelCfg }) {
  return (
    <div style={{ position: "absolute", left: cfg.left, top: cfg.top }}>
      <ScatterChart width={cfg.width} height={cfg.height} margin={cfg.margin}>
        <XAxis
          type="number" dataKey="x" domain={cfg.xDomain} ticks={cfg.xTicks} interval={0} allowDataOverflow
          height={cfg.xHeight} tickSize={0} tickMargin={0} tickLine={false}
          axisLine={{ stroke: INK, strokeWidth: 1.5 }} tick={xTick(cfg.xt)}
        />
        <YAxis
          type="number" dataKey="y" domain={cfg.yDomain} ticks={cfg.yTicks} interval={0} allowDataOverflow
          width={cfg.yWidth} tickSize={0} tickMargin={0} tickLine={false}
          axisLine={{ stroke: INK, strokeWidth: 1.5 }} tick={yTick(cfg.yt)}
        />
        {cfg.series.map((s, i) => (
          <Scatter key={i} name={s.name} data={pts(s.pts)} shape={shapeOf(s)} isAnimationActive={false} />
        ))}
        {cfg.arrows.map((a, i) => (
          <ReferenceLine
            key={"ar" + i}
            segment={[{ x: a.from[0], y: a.from[1] }, { x: a.to[0], y: a.to[1] }]}
            ifOverflow="visible"
            shape={arrowShape(a.color, a.w ?? 2, a.head ?? 12)}
          />
        ))}
      </ScatterChart>
    </div>
  );
}

// ---------- series ----------
const seriesA: S[] = [
  { name: "40nm crystal 1", kind: "up", color: A_BLUE, pts: a40c1, size: 11 },
  { name: "40nm crystal 2", kind: "circle", color: A_BLUE, pts: a40c2, size: 10.5 },
  { name: "40nm crystal 3", kind: "circle", color: A_BLUE, pts: a40c3, size: 10.5, filled: true },
  { name: "9nm crystal 1", kind: "circle", color: GREY, pts: a9c1, size: 10 },
  { name: "9nm crystal 2", kind: "square", color: GREY, pts: a9c2, size: 9 },
  { name: "9nm crystal 3", kind: "down", color: GREY, pts: a9c3, size: 10.5 },
  { name: "9nm crystal 4", kind: "star", color: INK, pts: a9c4, size: 9.5 },
];

const seriesC: S[] = [
  { name: "12nm a", kind: "diamond", color: INK, pts: zip(tC, c12d), size: 10, sw: 1.5 },
  { name: "12nm b", kind: "circle", color: INK, pts: zip(tC2, c12c), size: 10, sw: 1.5 },
  { name: "12nm c", kind: "right", color: INK, pts: zip(tC3, c12t), size: 10, sw: 1.5 },
  { name: "22nm a", kind: "circle", color: GREEN, pts: zip(tC2, c22c), size: 10, sw: 1.5 },
  { name: "22nm b", kind: "square", color: GREEN, pts: zip(tC, c22s), size: 9, sw: 1.5 },
  { name: "22nm c", kind: "up", color: GREEN, pts: zip(tC3, c22t), size: 10, sw: 1.5 },
  { name: "20nm", kind: "aster", color: RED, pts: c20, size: 5 },
  { name: "60nm a", kind: "square", color: CYAN, pts: c60s, size: 10 },
  { name: "60nm b", kind: "up", color: CYAN, pts: c60t, size: 11 },
  { name: "60nm c", kind: "circle", color: CYAN, pts: c60c, size: 11 },
  { name: "35nm a", kind: "up", color: C_BLUE, pts: c35t, size: 11 },
  { name: "35nm b", kind: "circle", color: C_BLUE, pts: c35c, size: 11 },
];

const b8: S[] = [
  { name: "8nm crystal 1", kind: "circle", color: INK, pts: zip(tB, b8c1) },
  { name: "8nm crystal 2", kind: "up", color: INK, pts: zip(tB2, b8c2) },
  { name: "8nm crystal 3", kind: "diamond", color: INK, pts: zip(tB, b8c3) },
  { name: "8nm crystal 4", kind: "left", color: INK, pts: zip(tB2, b8c4) },
];
const b16: S[] = [
  { name: "16nm crystal 1", kind: "circle", color: RED, pts: zip(tB, b16c1) },
  { name: "16nm crystal 2", kind: "up", color: RED, pts: zip(tB, b16c2) },
  { name: "16nm crystal 3", kind: "left", color: RED, pts: zip(tB2, b16c3) },
  { name: "16nm crystal 4", kind: "plus", color: RED, pts: zip(tB, b16c4) },
  { name: "16nm crystal 5", kind: "square", color: RED, pts: zip(tB2, b16c5) },
  { name: "16nm crystal 6", kind: "aster", color: RED, pts: zip(tB2, b16c6), size: 10 },
];
const b25: S[] = [
  { name: "25nm crystal 1", kind: "square", color: GREEN, pts: b25c1 },
  { name: "25nm crystal 2", kind: "diamond", color: GREEN, pts: b25c2 },
  { name: "25nm crystal 3", kind: "down", color: GREEN, pts: zip(tB2, b25c3) },
  { name: "25nm crystal 4", kind: "left", color: GREEN, pts: zip(tB, b25c4) },
];
const b35: S[] = [
  { name: "35nm crystal 1", kind: "square", color: B_BLUE, pts: b35c1 },
  { name: "35nm crystal 2", kind: "circle", color: B_BLUE, pts: b35c2 },
];
const b45: S[] = [
  { name: "45nm crystal 1", kind: "square", color: CYAN, pts: b45c1 },
  { name: "45nm crystal 2", kind: "aster", color: CYAN, pts: b45c2, size: 11 },
];
const b80: S[] = [
  { name: "80nm crystal 1", kind: "square", color: MAG, pts: b80c1 },
  { name: "80nm crystal 2", kind: "circle", color: MAG, pts: b80c2 },
];
const legendCols: { sx: number; tx: number; items: S[] }[] = [
  { sx: 106, tx: 130, items: [...b8, ...b16] },
  { sx: 272, tx: 295, items: [...b25, ...b35, ...b45] },
  { sx: 432, tx: 452, items: b80 },
];

const seriesD: S[] = [
  { name: "sample 1 crystal 4", kind: "circle", color: D_BLUE, pts: dCirc, size: 11, filled: true },
  { name: "sample 2 crystal 1", kind: "circle", color: D_BLUE, pts: oCirc, size: 9.5, sw: 1.4 },
  { name: "sample 2 crystal 2", kind: "square", color: D_BLUE, pts: oSq, size: 9.5, sw: 1.4 },
  { name: "sample 2 crystal 3", kind: "up", color: D_BLUE, pts: oUp, size: 10.5, sw: 1.4 },
  { name: "sample 2 crystal 4", kind: "down", color: D_BLUE, pts: oDown, size: 10.5, sw: 1.4 },
  { name: "sample 1 crystal 3", kind: "square", color: D_BLUE, pts: dSq, size: 11, filled: true },
  { name: "sample 1 crystal 2", kind: "up", color: D_BLUE, pts: dUp, size: 12.5, filled: true },
  { name: "sample 1 crystal 1", kind: "down", color: D_BLUE, pts: dDown, size: 13, filled: true },
];

// ---------- panel configs ----------
const panelA: PanelCfg = {
  left: 0, top: 0, width: 500, height: 362,
  margin: { top: 25, right: 15, bottom: 0, left: 12 },
  xDomain: [0, 180], yDomain: [0, 4.78], xTicks: aXTicks, yTicks: aYTicks,
  xt: { majors: [0, 50, 100, 150], len: 5, minorLen: 3, dir: 1, gap: 25, size: 19 },
  yt: { majors: [0, 1, 2, 3, 4], len: 5, minorLen: 3, dir: 1, gap: 9, size: 19 },
  xHeight: 72, yWidth: 60, series: seriesA,
  arrows: [
    { from: [130.4, 2.65], to: [77.8, 3.62], color: A_BLUE },
    { from: [130.4, 2.5], to: [97.1, 2.8], color: A_BLUE },
    { from: [124.6, 0.69], to: [101.4, 1.02], color: INK },
  ],
};

const panelC: PanelCfg = {
  left: 502, top: 0, width: 771, height: 362,
  margin: { top: 20, right: 7, bottom: 0, left: 22 },
  xDomain: [0, 162], yDomain: [0, 103], xTicks: cXTicks, yTicks: cYTicks,
  xt: { majors: [0, 50, 100, 150], len: 5, minorLen: 5, dir: -1, gap: 26, size: 22, sx: 0.85 },
  yt: { majors: [0, 20, 40, 60, 80, 100], len: 6, minorLen: 4, dir: 1, gap: 8, size: 22, sx: 0.85 },
  xHeight: 70, yWidth: 60, series: seriesC,
  arrows: [
    { from: [23, 58.2], to: [30.6, 38.6], color: C_BLUE, w: 1.6, head: 11 },
    { from: [121.2, 76.6], to: [94.7, 65.8], color: CYAN, w: 2, head: 11 },
    { from: [130, 55], to: [101.2, 19], color: RED, w: 1.6, head: 11 },
    { from: [74.7, 32.9], to: [60, 19], color: GREEN, w: 1.8, head: 11 },
    { from: [144.1, 32.9], to: [142.4, 10.8], color: INK, w: 1.6, head: 11 },
  ],
};

const panelB: PanelCfg = {
  left: 0, top: 362, width: 859, height: 614,
  margin: { top: 31, right: 8, bottom: 0, left: 31 },
  xDomain: [0, 244], yDomain: [0, 70], xTicks: bXTicks, yTicks: bYTicks,
  xt: { majors: [0, 50, 100, 150, 200], len: 5, minorLen: 5, dir: 0, gap: 33, size: 24, sx: 0.82 },
  yt: { majors: [0, 10, 20, 30, 40, 50, 60, 70], len: 9, minorLen: 5, dir: 1, gap: 14, size: 21, sx: 0.9 },
  xHeight: 88, yWidth: 60, series: [...b8, ...b16, ...b25, ...b80, ...b45, ...b35],
  arrows: [
    { from: [173.5, 62.5], to: [152.6, 56.4], color: INK, w: 2.2, head: 14 },
    { from: [179.9, 62.1], to: [129, 42], color: INK, w: 2.2, head: 14 },
    { from: [185.3, 62.5], to: [180.9, 43.6], color: INK, w: 2.2, head: 14 },
    { from: [210.4, 49.3], to: [207.2, 40.3], color: INK, w: 2.2, head: 14 },
    { from: [214.2, 49], to: [222.2, 18.4], color: INK, w: 2.2, head: 14 },
  ],
};

const panelD: PanelCfg = {
  left: 860, top: 362, width: 413, height: 614,
  margin: { top: 27, right: 14, bottom: 0, left: 26 },
  xDomain: [0, 235], yDomain: [0, 70], xTicks: dXTicks, yTicks: dYTicks,
  xt: { majors: [0, 50, 100, 150, 200], len: 7, minorLen: 5, dir: -1, gap: 30, size: 20.5 },
  yt: { majors: [0, 10, 20, 30, 40, 50, 60, 70], len: 9, minorLen: 5, dir: 1, gap: 14, size: 20.5 },
  xHeight: 177, yWidth: 60, series: seriesD,
  arrows: [
    { from: [48, 49.2], to: [74.3, 42], color: INK, w: 2.2, head: 14 },
    { from: [30.5, 49.5], to: [78.5, 19.4], color: INK, w: 2.2, head: 14 },
    { from: [204.3, 14.5], to: [210.5, 49.5], color: INK, w: 2.2, head: 14 },
  ],
};

// ---------- text overlay ----------
function Txt(props: { x: number; y: number; size: number; bold?: boolean; anchor?: string; children: React.ReactNode; rotate?: boolean; fill?: string }) {
  const { x, y, size, bold, anchor, children, rotate, fill } = props;
  return (
    <text
      x={rotate ? 0 : x}
      y={rotate ? 0 : y}
      transform={rotate ? `translate(${x},${y}) rotate(-90)` : undefined}
      fontSize={size}
      fontWeight={bold ? 700 : 400}
      fontFamily={FONT}
      textAnchor={anchor ?? "start"}
      fill={fill ?? INK}
    >
      {children}
    </text>
  );
}

function Overlay() {
  return (
    <svg width={1273} height={976} style={{ position: "absolute", left: 0, top: 0, pointerEvents: "none" }}>
      {/* panel frames */}
      <line x1={502} y1={0} x2={502} y2={362} stroke="#333" strokeWidth={1.5} />
      <line x1={0} y1={362} x2={1273} y2={362} stroke="#333" strokeWidth={1.5} />
      <line x1={859} y1={362} x2={859} y2={976} stroke="#333" strokeWidth={1.5} />

      {/* a */}
      <Txt x={10} y={43} size={27} bold>a</Txt>
      <Txt x={80} y={50} size={22} bold>PCBM/P3HT 140 °C</Txt>
      <Txt x={279} y={348} size={22} anchor="middle">Annealing Time (minutes)</Txt>
      <Txt x={27} y={162} size={22} anchor="middle" rotate>
        Crystal Length <tspan fontSize={16}>(μm)</tspan>
      </Txt>
      <Txt x={378} y={153} size={22}><tspan fill={A_BLUE}>40nm</tspan> P3HT</Txt>
      <Txt x={379} y={180} size={22}>crystals 1-3</Txt>
      <Txt x={365} y={247} size={22}>9 nm P3HT</Txt>
      <Txt x={365} y={274} size={22}>crystals 1-4</Txt>

      {/* c */}
      <Txt x={515} y={44} size={27} bold>c</Txt>
      <Txt x={594} y={50} size={21.5} bold>PCBM/106k-PS 170 °C</Txt>
      <Txt x={925} y={340} size={22} anchor="middle">Annealing Time (minutes)</Txt>
      <Txt x={546} y={162} size={23.5} anchor="middle" rotate>Crystal Length (μm)</Txt>
      <Txt x={641} y={130} size={21.5}><tspan fill={C_BLUE}>35nm</tspan> PS</Txt>
      <Txt x={1097} y={100} size={21.5}><tspan fill={CYAN}>60nm</tspan> PS</Txt>
      <Txt x={1139} y={156} size={21.5}><tspan fill={RED}>20nm</tspan> PS</Txt>
      <Txt x={891} y={202} size={21.5}><tspan fill={GREEN}>22nm</tspan> PS</Txt>
      <Txt x={1156} y={198} size={21.5}>12nm PS</Txt>

      {/* b */}
      <Txt x={11} y={397} size={29} bold>b</Txt>
      <Txt x={600} y={399} size={23} bold>PCBM/344k-PS 170 °C</Txt>
      <Txt x={472} y={957} size={26.5} anchor="middle">Annealing Time (minutes)</Txt>
      <Txt x={41} y={658} size={27} anchor="middle" rotate>Crystal Length (μm)</Txt>
      <Txt x={633} y={440} size={23}>
        <tspan fill={B_BLUE}>35nm-</tspan><tspan fill={MAG}>80nm</tspan> PS
      </Txt>
      <Txt x={708} y={500} size={23}><tspan fill={RED}>16nm</tspan> &amp;</Txt>
      <Txt x={708} y={529} size={23}><tspan fill={GREEN}>25nm</tspan> PS</Txt>
      <Txt x={662} y={827} size={22.5}>8nm PS</Txt>
      {legendCols.map((col, ci) =>
        col.items.map((s, i) => {
          const cy = 405.3 + 20.7 * i;
          return (
            <g key={ci + "-" + i}>
              {glyph(s.kind, col.sx, cy, 10, s.color, !!s.filled, 1.4)}
              <Txt x={col.tx} y={cy + 6} size={16.5}>{s.name}</Txt>
            </g>
          );
        })
      )}

      {/* d */}
      <Txt x={872} y={393} size={27} bold>d</Txt>
      <Txt x={953} y={399} size={23.3} bold>PCBM/344k-PS 35nm 170 °C</Txt>
      <Txt x={1102} y={860} size={28} anchor="middle">Annealing Time (minutes)</Txt>
      <Txt x={892} y={610} size={24} anchor="middle" rotate>Crystal Length (μm)</Txt>
      <Txt x={950} y={425} size={19}>sample 1, crystals 1-4;</Txt>
      <Txt x={950} y={447} size={19}>continuous</Txt>
      <Txt x={950} y={469} size={19}>illumination</Txt>
      <Txt x={950} y={490} size={19}>(closed symbols)</Txt>
      <Txt x={1048} y={742} size={19}>sample 2, crystals 1-4;</Txt>
      <Txt x={1048} y={764} size={19}>intermittent illumination</Txt>
      <Txt x={1048} y={785} size={19}>(open symbols)</Txt>
    </svg>
  );
}

export default function App() {
  return (
    <div style={{ position: "absolute", left: 0, top: 0, width: 1273, height: 976, background: "#fff", overflow: "hidden", fontFamily: FONT }}>
      <Panel cfg={panelA} />
      <Panel cfg={panelC} />
      <Panel cfg={panelB} />
      <Panel cfg={panelD} />
      <Overlay />
    </div>
  );
}
